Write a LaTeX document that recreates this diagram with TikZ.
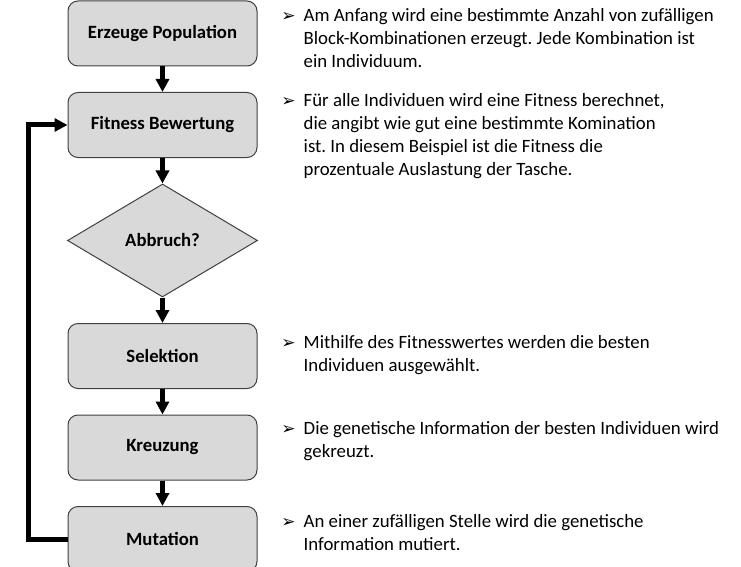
\documentclass[tikz,border=0pt]{standalone}
\usepackage{fontspec}
\setmainfont{Carlito}
\newfontfamily\symfont{DejaVu Sans}
\usetikzlibrary{arrows.meta,positioning,shapes.geometric}
\frenchspacing

\newcommand\itemarrow{\llap{{\symfont\fontsize{17}{17}\selectfont ➢}\hspace{8pt}}\strut}

\tikzset{
  stepbox/.style={rectangle, rounded corners=10pt, draw=black!75, line width=1pt,
    fill=black!15, minimum width=189pt, minimum height=65pt,
    font=\fontsize{18.7}{20}\selectfont\bfseries},
  decision/.style={diamond, draw=black!75, line width=1pt, fill=black!15, inner sep=0pt,
    minimum width=190pt, minimum height=113pt, font=\fontsize{18.7}{20}\selectfont\bfseries},
  desc/.style={align=left, inner sep=0pt, font=\fontsize{18.8}{23}\selectfont},
  flow/.style={->, line width=5pt},
}

\begin{document}
\begin{tikzpicture}[node distance=25.5pt, >={Triangle[length=13pt,width=13pt]}]
    \useasboundingbox (0,0) rectangle (741pt,-567pt);
    \node[stepbox] (erzeuge) at (162.5pt,-33.5pt) {Erzeuge Population};
    \node[stepbox] (fitness) [below=of erzeuge] {Fitness Bewertung};
    \node[decision] (abbruch) [below=of fitness] {Abbruch?};
    \node[stepbox] (selektion) [below=of abbruch] {Selektion};
    \node[stepbox] (kreuzung) [below=of selektion] {Kreuzung};
    \node[stepbox] (mutation) [below=of kreuzung] {Mutation};
    \coordinate [left=39pt of mutation.west] (back);
    \draw [flow] (erzeuge) to (fitness);
    \draw [flow] (fitness) to (abbruch);
    \draw [flow] (abbruch) to (selektion);
    \draw [flow] (selektion) to (kreuzung);
    \draw [flow] (kreuzung) to (mutation);
    \draw [flow] (mutation.west) -- (back) |- (fitness.west);
    % Erlaeuterungen
    \node[desc] (erzeugetxt) [below right=5pt and 46pt of erzeuge.north east]
      {\itemarrow Am Anfang wird eine bestimmte Anzahl von zufälligen\\
       Block-Kombinationen erzeugt. Jede Kombination ist\\
       ein Individuum.};
    \node[desc] (fitnesstxt) [below right=-2pt and 46pt of fitness.north east]
      {\itemarrow Für alle Individuen wird eine Fitness berechnet,\\
       die angibt wie gut eine bestimmte Komination\\
       ist. In diesem Beispiel ist die Fitness die\\
       prozentuale Auslastung der Tasche.};
    \node[desc] (selektiontxt) [below right=9pt and 46pt of selektion.north east]
      {\itemarrow Mithilfe des Fitnesswertes werden die besten\\
       Individuen ausgewählt.};
    \node[desc] (kreuzungtxt) [below right=4pt and 46pt of kreuzung.north east]
      {\itemarrow Die genetische Information der besten Individuen wird\\
       gekreuzt.};
    \node[desc] (mutationtxt) [below right=5pt and 46pt of mutation.north east]
      {\itemarrow An einer zufälligen Stelle wird die genetische\\
       Information mutiert.};
\end{tikzpicture}
\end{document}
